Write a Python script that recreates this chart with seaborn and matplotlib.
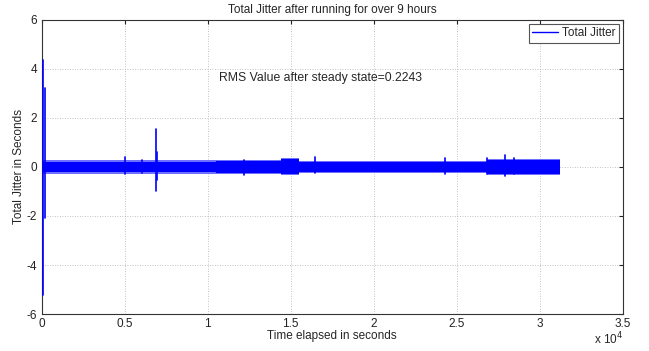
import numpy as np
import pandas as pd
import seaborn as sns
import matplotlib.pyplot as plt
from matplotlib.lines import Line2D
from matplotlib.ticker import FuncFormatter, MultipleLocator

# steady-state noise band (seconds, upper, lower)
env_t = [100, 10500, 14400, 15500, 26800, 31235]
env_hi = [0.22, 0.24, 0.31, 0.21, 0.29, 0.29]
env_lo = [-0.21, -0.24, -0.27, -0.2, -0.27, -0.27]
# fainter fringe of the band (occasional larger samples)
fringe_hi = [0.27, 0.3, 0.36, 0.26, 0.34, 0.34]
fringe_lo = [-0.27, -0.3, -0.32, -0.26, -0.32, -0.32]

# isolated spikes standing out of the band
spike_t = [110, 190, 5010, 6036, 6916, 6960, 12200, 16480, 24310, 26820, 27880, 28460]
spike_hi = [4.37, 3.2, 0.42, 0.3, 1.54, 0.6, 0.3, 0.4, 0.36, 0.35, 0.49, 0.38]
spike_lo = [-5.22, -2.1, -0.29, -0.25, -1.0, -0.55, -0.33, -0.25, -0.28, -0.3, -0.37, -0.3]

rms_text = 'RMS Value after steady state=0.2243'

sns.set_style('white')
plt.rcParams['font.family'] = ['Liberation Sans', 'DejaVu Sans']
plt.rcParams['axes.unicode_minus'] = False

rows = []
for i in range(len(spike_t)):
    rows.append({'t': spike_t[i], 'v': spike_hi[i], 'id': i})
    rows.append({'t': spike_t[i], 'v': spike_lo[i], 'id': i})
spikes = pd.DataFrame(rows)

fig = plt.figure(figsize=(6.49, 3.51), dpi=100)
ax = fig.add_axes([0.064, 0.105, 0.896, 0.839])

ax.fill_between(env_t, fringe_lo, fringe_hi, step='post', color='#7070ff', lw=0)
ax.fill_between(env_t, env_lo, env_hi, step='post', color='#0000ff', lw=0)
sns.lineplot(data=spikes, x='t', y='v', units='id', estimator=None, sort=False,
             color='#0000ff', lw=1.2, ax=ax, zorder=3)

ax.set_xlim(0, 35000)
ax.set_ylim(-6, 6)
ax.xaxis.set_major_locator(MultipleLocator(5000))
ax.yaxis.set_major_locator(MultipleLocator(2))
ax.xaxis.set_major_formatter(FuncFormatter(lambda v, p: '%g' % (v / 1e4)))
ax.yaxis.set_major_formatter(FuncFormatter(lambda v, p: '%d' % v))
ax.grid(True, ls=(0, (1, 2)), color='#b0b0b0', lw=0.6)
ax.tick_params(direction='in', length=3, width=0.8, top=True, right=True,
               labelsize=8.5, colors='#222222', pad=3)
for s in ax.spines.values():
    s.set_color('#333333')
    s.set_linewidth(0.8)

ax.set_title('Total Jitter after running for over 9 hours', fontsize=8.5, pad=5)
ax.set_xlabel('Time elapsed in seconds', fontsize=8.5, labelpad=0)
ax.set_ylabel('Total Jitter in Seconds', fontsize=8.5, labelpad=1)
ax.text(10700, 3.62, rms_text, fontsize=8.8, va='center', ha='left')
ax.text(1.0, -0.085, r'x 10$^4$', transform=ax.transAxes, fontsize=8.5, ha='right', va='center')

handle = Line2D([], [], color='#0000ff', lw=1)
leg = ax.legend([handle], ['Total Jitter'], loc='upper right', fontsize=8.5,
                fancybox=False, framealpha=1, edgecolor='#555555', handlelength=2.2,
                borderpad=0.3, borderaxespad=0.35, handletextpad=0.3)
leg.get_frame().set_linewidth(0.8)

plt.savefig('out.png', dpi=100)
